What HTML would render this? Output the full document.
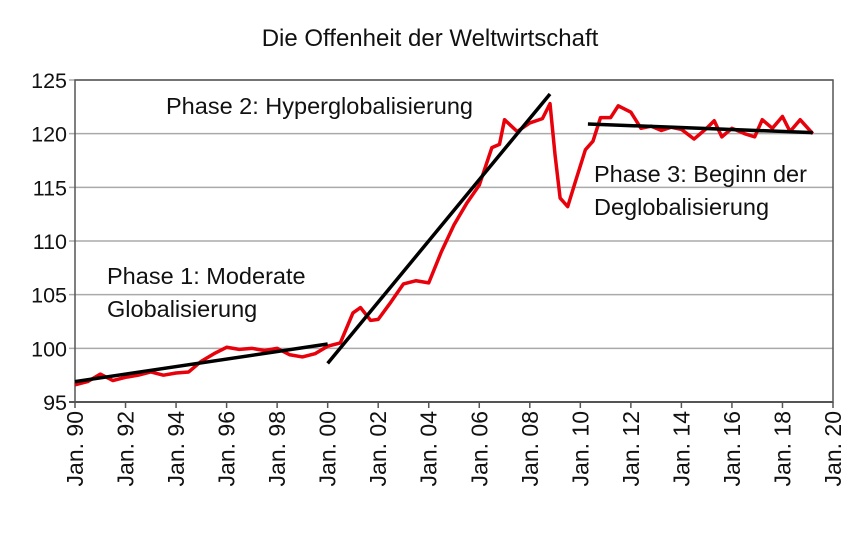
<!DOCTYPE html>
<html><head><meta charset="utf-8"><style>
body{margin:0;background:#fff}
text{font-family:"Liberation Sans",sans-serif;fill:#111}
</style></head><body>
<svg id="c" width="860" height="537"></svg>
<script>
const years=[1990,1990.5,1991,1991.5,1992,1992.5,1993,1993.5,1994,1994.5,1995,1995.5,1996,1996.5,1997,1997.5,1998,1998.5,1999,1999.5,2000,2000.5,2001,2001.3,2001.7,2002,2002.5,2003,2003.5,2004,2004.5,2005,2005.5,2006,2006.5,2006.8,2007,2007.5,2008,2008.5,2008.8,2009.0,2009.2,2009.5,2009.8,2010.2,2010.5,2010.8,2011.2,2011.5,2012,2012.4,2012.8,2013.2,2013.6,2014,2014.5,2015,2015.3,2015.6,2016,2016.5,2016.9,2017.2,2017.6,2018,2018.3,2018.7,2019.2];
const values=[96.6,96.9,97.6,97.0,97.3,97.5,97.8,97.5,97.7,97.8,98.8,99.5,100.1,99.9,100.0,99.8,100.0,99.4,99.2,99.5,100.2,100.5,103.3,103.8,102.6,102.7,104.3,106.0,106.3,106.1,109.0,111.5,113.5,115.2,118.7,119.0,121.3,120.2,121.0,121.4,122.8,118,114,113.2,115.5,118.5,119.3,121.5,121.5,122.6,122,120.5,120.7,120.3,120.6,120.4,119.5,120.5,121.2,119.7,120.5,120.0,119.7,121.3,120.5,121.6,120.2,121.3,120.0];
const trendX=[[1990,2000],[2000,2008.8],[2010.3,2019.2]];
const trendY=[[96.9,100.4],[98.6,123.7],[120.9,120.1]];
const yTicks=[95,100,105,110,115,120,125];
const xTicks=[1990,1992,1994,1996,1998,2000,2002,2004,2006,2008,2010,2012,2014,2016,2018,2020];
const xTickLabels=["Jan. 90","Jan. 92","Jan. 94","Jan. 96","Jan. 98","Jan. 00","Jan. 02","Jan. 04","Jan. 06","Jan. 08","Jan. 10","Jan. 12","Jan. 14","Jan. 16","Jan. 18","Jan. 20"];
const L=75,R=833,T=80,B=402;
const xs=v=>L+(v-1990)/30*(R-L);
const ys=v=>B-(v-95)/30*(B-T);
const s=document.getElementById('c');const NS='http://www.w3.org/2000/svg';
function mk(t,a,p){const e=document.createElementNS(NS,t);for(const k in a)e.setAttribute(k,a[k]);(p||s).appendChild(e);return e;}
let t=mk('text',{x:430,y:46,'text-anchor':'middle','font-size':24});t.textContent='Die Offenheit der Weltwirtschaft';

yTicks.forEach(v=>{const g=mk('line',{x1:L-6,x2:R,y1:ys(v),y2:ys(v),stroke:v==95?'#555':'#aaa','stroke-width':v==95?2:1.5});

const l=mk('text',{x:L-8,y:ys(v)+8,'text-anchor':'end','font-size':21.5});l.textContent=v;
});
const fr=mk('rect',{x:L,y:T,width:R-L,height:B-T,fill:'none',stroke:'#555','stroke-width':1.5});

xTicks.forEach((v,i)=>{const tk=mk('line',{x1:xs(v),x2:xs(v),y1:B,y2:B+6,stroke:'#555','stroke-width':1.5});

const l=mk('text',{x:0,y:0,'text-anchor':'end','font-size':23,transform:`translate(${xs(v)+8},${B+9}) rotate(-90)`});l.textContent=xTickLabels[i];
});
const p=mk('polyline',{points:years.map((y,i)=>xs(y)+','+ys(values[i])).join(' '),fill:'none',stroke:'#e8000b','stroke-width':3.5,'stroke-linejoin':'round'});

trendX.forEach((a,i)=>{const ln=mk('line',{x1:xs(a[0]),x2:xs(a[1]),y1:ys(trendY[i][0]),y2:ys(trendY[i][1]),stroke:'#000','stroke-width':3.5});
});
[['Phase 2: Hyperglobalisierung',166,114,'phase-2-label'],['Phase 1: Moderate',107,284,'phase-1-label'],['Globalisierung',107,317,'phase-1-label-2'],['Phase 3: Beginn der',594,182,'phase-3-label'],['Deglobalisierung',594,215,'phase-3-label-2']].forEach(d=>{
const a=mk('text',{x:d[1],y:d[2],'font-size':23.5});a.textContent=d[0];
});
</script>
</body></html>
